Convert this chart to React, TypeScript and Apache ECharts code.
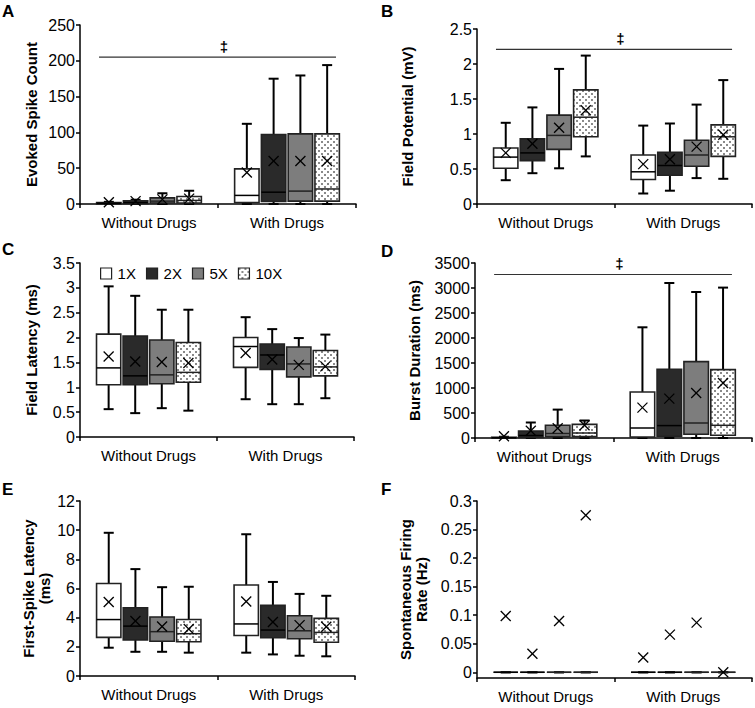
import React, { useEffect, useRef } from "react";
import * as echarts from "echarts";

const FONT = '"Liberation Sans", Arial, Helvetica, sans-serif';

const categories = ["Without Drugs", "With Drugs"];
const doses = ["1X", "2X", "5X", "10X"];

// Each row: [min, q1, median, q3, max, mean]; per dose: [Without Drugs, With Drugs]
const evokedSpikeCount = [
  [[0, 0, 1, 2, 3, 2.5], [0, 2, 12, 49, 112, 44]],
  [[0, 0.5, 2, 4.5, 6, 4], [0, 3.5, 16.5, 97, 175, 60]],
  [[0, 1.5, 4, 8.5, 15, 6.5], [0, 4, 18, 98, 179.5, 60]],
  [[0, 1.5, 5, 10.5, 18.5, 7.5], [0, 4, 21, 98, 194, 60]],
];
const fieldPotential = [
  [[0.34, 0.51, 0.67, 0.8, 1.16, 0.73], [0.15, 0.35, 0.46, 0.7, 1.12, 0.57]],
  [[0.44, 0.62, 0.73, 0.93, 1.38, 0.86], [0.19, 0.41, 0.55, 0.74, 1.15, 0.64]],
  [[0.51, 0.78, 0.98, 1.27, 1.93, 1.09], [0.37, 0.54, 0.7, 0.91, 1.42, 0.82]],
  [[0.68, 0.96, 1.24, 1.63, 2.12, 1.34], [0.36, 0.68, 0.96, 1.13, 1.77, 0.99]],
];
const fieldLatency = [
  [[0.56, 1.05, 1.39, 2.07, 3.03, 1.62], [0.76, 1.4, 1.82, 2.0, 2.41, 1.69]],
  [[0.48, 1.05, 1.23, 2.03, 2.84, 1.52], [0.66, 1.36, 1.65, 1.87, 2.17, 1.56]],
  [[0.58, 1.07, 1.25, 1.95, 2.56, 1.51], [0.66, 1.21, 1.47, 1.81, 1.99, 1.45]],
  [[0.53, 1.1, 1.3, 1.9, 2.56, 1.49], [0.78, 1.23, 1.41, 1.74, 2.06, 1.42]],
];
const burstDuration = [
  [[0, 0, 5, 15, 25, 35], [0, 20, 200, 920, 2214, 607]],
  [[0, 10, 50, 140, 310, 145], [0, 34, 248, 1374, 3100, 788]],
  [[0, 27, 90, 254, 568, 195], [0, 74, 300, 1528, 2920, 900]],
  [[0, 27, 100, 272, 350, 255], [0, 54, 254, 1368, 3008, 1100]],
];
const firstSpikeLatency = [
  [[1.94, 2.65, 3.87, 6.34, 9.82, 5.08], [1.6, 2.78, 3.57, 6.24, 9.72, 5.11]],
  [[1.66, 2.48, 3.42, 4.68, 7.33, 3.77], [1.48, 2.62, 3.15, 4.84, 6.45, 3.7]],
  [[1.66, 2.38, 3.04, 4.05, 6.09, 3.4], [1.39, 2.55, 3.1, 4.13, 5.63, 3.49]],
  [[1.6, 2.35, 2.9, 3.87, 6.12, 3.22], [1.35, 2.31, 2.99, 3.95, 5.5, 3.38]],
];
const spontaneousRate = [
  [[0, 0, 0, 0, 0, 0.0985], [0, 0, 0, 0, 0, 0.026]],
  [[0, 0, 0, 0, 0, 0.0326], [0, 0, 0, 0, 0, 0.066]],
  [[0, 0, 0, 0, 0, 0.0897], [0, 0, 0, 0, 0, 0.087]],
  [[0, 0, 0, 0, 0, 0.275], [0, 0, 0, 0, 0, 0]],
];

// significance bar levels (‡) for panels A, B, D
const sigLevels = [205, 2.21, 3270];

const BOX_FRAC = 0.177;
const PITCH_FRAC = 0.194;

export default function App() {
  const ref = useRef<HTMLDivElement>(null);

  useEffect(() => {
    if (!ref.current) return;
    const chart = echarts.init(ref.current, null, { renderer: "svg" });

    const cvs = document.createElement("canvas");
    cvs.width = 6;
    cvs.height = 6;
    const ctx = cvs.getContext("2d")!;
    ctx.fillStyle = "#ffffff";
    ctx.fillRect(0, 0, 6, 6);
    ctx.fillStyle = "#8a8a8a";
    ctx.fillRect(0, 0, 2, 2);
    ctx.fillRect(3, 3, 2, 2);
    const dots: any = { image: cvs, repeat: "repeat" };

    const fills: any[] = ["#ffffff", "#2a2a2a", "#7d7d7d", dots];
    const medianColors = ["#000", "#000", "#222", "#222"];

    const panels = [
      { letter: "A", data: evokedSpikeCount, name: "Evoked Spike Count", left: 80, top: 25, width: 276, height: 179, min: 0, max: 250, interval: 50, gap: 41, fs: 16, sig: sigLevels[0] },
      { letter: "B", data: fieldPotential, name: "Field Potential (mV)", left: 477, top: 29, width: 275, height: 175, min: 0, max: 2.5, interval: 0.5, gap: 62, fs: 16, sig: sigLevels[1] },
      { letter: "C", data: fieldLatency, name: "Field Latency (ms)", left: 80, top: 263, width: 274, height: 174, min: 0, max: 3.5, interval: 0.5, gap: 41, fs: 16, sig: null },
      { letter: "D", data: burstDuration, name: "Burst Duration (ms)", left: 475, top: 263, width: 277, height: 175, min: 0, max: 3500, interval: 500, gap: 53, fs: 16, sig: sigLevels[2] },
      { letter: "E", data: firstSpikeLatency, name: "First-Spike Latency\n(ms)", left: 80, top: 501, width: 275, height: 175, min: 0, max: 12, interval: 2, gap: 28, fs: 16, sig: null },
      { letter: "F", data: spontaneousRate, name: "Spontaneous Firing\nRate (Hz)", left: 477, top: 501, width: 275, height: 177, min: -0.01, max: 0.3, interval: null, gap: 48, fs: 16, sig: null },
    ];

    const letterPos = [
      [2, 3], [381, 3], [2, 241], [381, 243], [2, 481], [381, 481],
    ];

    const grid: any[] = [];
    const xAxis: any[] = [];
    const yAxis: any[] = [];
    const series: any[] = [];
    const title: any[] = [];

    const makeRender = (k: number) => (params: any, api: any) => {
      const cat = api.value(0);
      const band = api.size([1, 0])[0];
      const bw = band * BOX_FRAC;
      const pitch = band * PITCH_FRAC;
      const cx = api.coord([cat, 0])[0] + (k - 1.5) * pitch;
      const y = (v: number) => api.coord([cat, v])[1];
      const yMin = y(api.value(1));
      const yQ1 = y(api.value(2));
      const yMed = y(api.value(3));
      const yQ3 = y(api.value(4));
      const yMax = y(api.value(5));
      const yMean = y(api.value(6));
      const cap = 5;
      const xs = 5;
      const wStyle = { stroke: "#000", lineWidth: 2 };
      return {
        type: "group",
        children: [
          { type: "line", shape: { x1: cx, y1: yQ3, x2: cx, y2: yMax }, style: wStyle },
          { type: "line", shape: { x1: cx - cap, y1: yMax, x2: cx + cap, y2: yMax }, style: wStyle },
          { type: "line", shape: { x1: cx, y1: yQ1, x2: cx, y2: yMin }, style: wStyle },
          { type: "line", shape: { x1: cx - cap, y1: yMin, x2: cx + cap, y2: yMin }, style: wStyle },
          {
            type: "rect",
            shape: { x: cx - bw / 2, y: yQ3, width: bw, height: yQ1 - yQ3 },
            style: { fill: fills[k], stroke: "#222", lineWidth: 1.6 },
          },
          { type: "line", shape: { x1: cx - bw / 2, y1: yMed, x2: cx + bw / 2, y2: yMed }, style: { stroke: medianColors[k], lineWidth: 1.5 } },
          { type: "line", shape: { x1: cx - xs, y1: yMean - xs, x2: cx + xs, y2: yMean + xs }, style: { stroke: "#000", lineWidth: 1.3 } },
          { type: "line", shape: { x1: cx - xs, y1: yMean + xs, x2: cx + xs, y2: yMean - xs }, style: { stroke: "#000", lineWidth: 1.3 } },
        ],
      };
    };

    const sigRender = (params: any, api: any) => {
      const lvl = api.value(1);
      const band = api.size([1, 0])[0];
      const p0 = api.coord([0, lvl]);
      const p1 = api.coord([1, lvl]);
      const x1 = p0[0] - band * 0.362;
      const x2 = p1[0] + band * 0.355;
      const mid = (p0[0] + p1[0]) / 2 + 6;
      return {
        type: "group",
        children: [
          { type: "line", shape: { x1, y1: p0[1], x2, y2: p0[1] }, style: { stroke: "#333", lineWidth: 1.2 } },
          {
            type: "text",
            x: mid,
            y: p0[1] - 11,
            style: {
              legacy: false,
              text: "\u2021",
              fill: "#000",
              fontSize: 15,
              fontWeight: "bold",
              fontFamily: FONT,
              align: "center",
              verticalAlign: "middle",
            },
          },
        ],
      };
    };

    panels.forEach((p, i) => {
      grid.push({ left: p.left, top: p.top, width: p.width, height: p.height });
      title.push({
        text: p.letter,
        left: letterPos[i][0],
        top: letterPos[i][1],
        padding: 0,
        textStyle: { fontFamily: FONT, fontWeight: "bold", fontSize: 17, color: "#000" },
      });
      xAxis.push({
        type: "category",
        gridIndex: i,
        data: categories,
        boundaryGap: true,
        axisLine: { onZero: false, lineStyle: { color: "#000", width: 1.5 } },
        axisTick: { show: true, length: 4, interval: 0, lineStyle: { color: "#000", width: 1.5 } },
        axisLabel: { fontFamily: FONT, fontSize: 15, color: "#000", margin: 11, interval: 0 },
        splitLine: { show: false },
      });
      const ya: any = {
        type: "value",
        gridIndex: i,
        min: p.min,
        max: p.max,
        name: p.name,
        nameLocation: "middle",
        nameGap: p.gap,
        nameTextStyle: { fontFamily: FONT, fontWeight: "bold", fontSize: 15, color: "#000", lineHeight: 16 },
        axisLine: { show: true, lineStyle: { color: "#000", width: 1.5 } },
        axisTick: { show: true, length: 4, lineStyle: { color: "#000", width: 1.5 } },
        axisLabel: {
          fontFamily: FONT,
          fontSize: p.fs,
          color: "#000",
          margin: 5,
          formatter: (v: number) => String(Math.round(v * 1000) / 1000),
        },
        splitLine: { show: false },
      };
      if (p.interval !== null) ya.interval = p.interval;
      else {
        ya.splitNumber = 6;
        ya.axisLabel.showMinLabel = false;
      }
      yAxis.push(ya);

      doses.forEach((d, k) => {
        series.push({
          type: "custom",
          name: d,
          xAxisIndex: i,
          yAxisIndex: i,
          silent: true,
          itemStyle: { color: fills[k], borderColor: "#222", borderWidth: 1.2 },
          encode: { x: 0, y: [1, 2, 3, 4, 5, 6] },
          data: categories.map((c, ci) => [ci, ...p.data[k][ci]]),
          renderItem: makeRender(k),
        });
      });

      if (p.sig !== null) {
        series.push({
          type: "custom",
          name: "sig" + i,
          xAxisIndex: i,
          yAxisIndex: i,
          silent: true,
          itemStyle: { color: "#000" },
          encode: { x: 0, y: 1 },
          data: [[0, p.sig]],
          renderItem: sigRender,
        });
      }
    });

    const option: any = {
      animation: false,
      backgroundColor: "#fff",
      textStyle: { fontFamily: FONT },
      title,
      grid,
      xAxis,
      yAxis,
      legend: {
        data: doses.map((d, k) => ({
          name: d,
          icon: "rect",
          itemStyle: { color: fills[k], borderColor: "#222", borderWidth: 1.2 },
        })),
        selectedMode: false,
        left: 100,
        top: 266,
        itemWidth: 11,
        itemHeight: 11,
        itemGap: 10,
        padding: 0,
        textStyle: { fontFamily: FONT, fontSize: 15, color: "#000", padding: [0, 0, 0, 1] },
      },
      series,
    };

    chart.setOption(option);
    return () => chart.dispose();
  }, []);

  return (
    <div
      ref={ref}
      style={{ position: "absolute", left: 0, top: 0, width: 755, height: 708, background: "#fff" }}
    />
  );
}
